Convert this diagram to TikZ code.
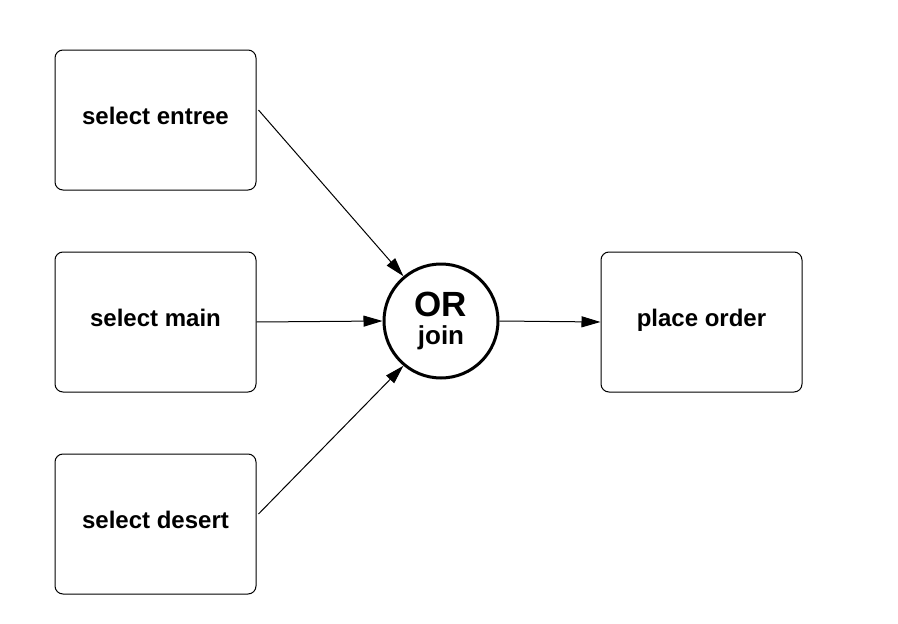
\documentclass[tikz,border=0pt]{standalone}
\usepackage{fontspec}
\setmainfont{Liberation Sans}
\usetikzlibrary{arrows.meta}
\tikzset{
  task/.style={rectangle, draw, rounded corners=8pt, line width=1pt, minimum width=201pt, minimum height=140pt, text height=17pt, text depth=9pt, font=\fontsize{24}{26}\selectfont\bfseries},
  gate/.style={circle, draw, line width=3pt, minimum size=114pt, inner sep=0pt, align=center, font=\bfseries},
  flow/.style={line width=1pt, -{Triangle[length=19pt,width=11pt]}}
}
\begin{document}
\begin{tikzpicture}[x=1pt, y=-1pt]
    \useasboundingbox (0,0) rectangle (898,624);
    \node[task] (entree) at (155.5,120) {select entree};
    \node[task] (main) at (155.5,322) {select main};
    \node[task] (desert) at (155.5,524) {select desert};
    \node[gate] (orjoin) at (441,321) {\fontsize{35}{25}\selectfont OR\\[8pt]\fontsize{26}{25}\selectfont join};
    \node[task] (order) at (701.5,322) {place order};

    \draw[flow] (entree.east) ++(2,-10) coordinate (e1) (e1) -- (orjoin.130);
    \draw[flow] (main.east) -- (orjoin.west);
    \draw[flow] (desert.east) ++(2,-10) coordinate (d1) (d1) -- (orjoin.-130);
    \draw[flow] (orjoin.east) -- (order.west);
  \end{tikzpicture}
\end{document}
